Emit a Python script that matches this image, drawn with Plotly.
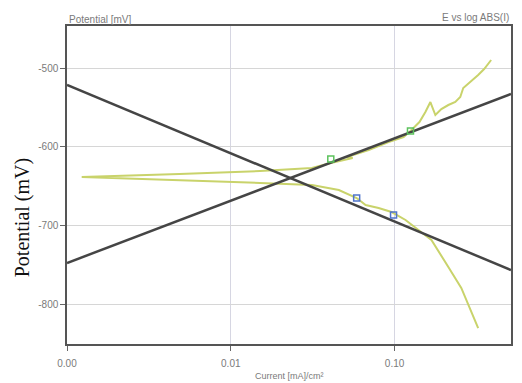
import plotly.graph_objects as go

# Polarisation curve (cathodic end -> Ecorr -> anodic end)
current = [0.3240, 0.2897, 0.2555, 0.2130, 0.1679, 0.1399, 0.1167, 0.0959, 0.0799,
           0.0666, 0.0587, 0.0457, 0.0313, 0.0151, 0.00486, 0.00123,
           0.00486, 0.0151, 0.0313, 0.0408, 0.0555, 0.0511, 0.0695, 0.0919, 0.1134,
           0.1251, 0.1419, 0.1543, 0.1655, 0.1775, 0.1931, 0.2130, 0.2349, 0.2519,
           0.2627, 0.2897, 0.3240, 0.3524, 0.3888]
potential = [-830.4, -807.5, -779.5, -752.8, -718.5, -705.8, -693.1, -683.0, -677.9,
             -674.1, -665.2, -655.0, -648.7, -646.1, -642.3, -638.5,
             -634.7, -630.9, -627.1, -620.7, -614.4, -613.1, -604.2, -594.0, -587.7,
             -580.0, -568.6, -555.9, -543.2, -559.7, -552.1, -547.0, -543.2, -536.8,
             -525.4, -517.8, -508.9, -501.3, -489.8]

# Tafel fit lines
tafel_current = [0.001, 0.514]
tafel_cathodic = [-521.6, -756.7]
tafel_anodic = [-747.8, -533.0]

# Fit-range markers
anodic_mark_i = [0.0408, 0.1251]
anodic_mark_e = [-615.6, -580.0]
cathodic_mark_i = [0.0587, 0.0986]
cathodic_mark_e = [-665.2, -686.8]

x_ticks = [0.001, 0.01, 0.1]
x_tick_text = ["0.00", "0.01", "0.10"]
y_ticks = [-500, -600, -700, -800]
y_tick_text = ["-500", "-600", "-700", "-800"]

small_font = "Liberation Sans, Arial, sans-serif"
gray = "#7a7a7a"

fig = go.Figure()
fig.add_trace(go.Scatter(x=current, y=potential, mode="lines",
                         line=dict(color="#c9d36b", width=2), showlegend=False))
fig.add_trace(go.Scatter(x=tafel_current, y=tafel_cathodic, mode="lines",
                         line=dict(color="#454545", width=2.5), showlegend=False))
fig.add_trace(go.Scatter(x=tafel_current, y=tafel_anodic, mode="lines",
                         line=dict(color="#454545", width=2.5), showlegend=False))
fig.add_trace(go.Scatter(x=anodic_mark_i, y=anodic_mark_e, mode="markers",
                         marker=dict(symbol="square-open", size=6, color="#5cc25c",
                                     line=dict(width=1.5)), showlegend=False))
fig.add_trace(go.Scatter(x=cathodic_mark_i, y=cathodic_mark_e, mode="markers",
                         marker=dict(symbol="square-open", size=6, color="#4f74cc",
                                     line=dict(width=1.5)), showlegend=False))

fig.update_layout(
    width=522, height=383,
    margin=dict(l=67, r=9, t=26, b=39),
    paper_bgcolor="white", plot_bgcolor="white",
    font=dict(family=small_font, size=10, color=gray),
    xaxis=dict(type="log", range=[-3, -0.289], tickvals=x_ticks, ticktext=x_tick_text,
               ticks="outside", ticklen=5, tickcolor="#666", showline=True, mirror=True,
               linecolor="#555", linewidth=1.5, showgrid=True, gridcolor="#d6d6e2",
               gridwidth=1, zeroline=False, ticklabelstandoff=4,
               tickfont=dict(size=10, color=gray)),
    yaxis=dict(range=[-850.7, -446.6], tickvals=y_ticks, ticktext=y_tick_text,
               ticks="outside", ticklen=5, tickcolor="#666", showline=True, mirror=True,
               linecolor="#555", linewidth=1.5, showgrid=True, gridcolor="#d6d6d6",
               gridwidth=1, zeroline=False, tickfont=dict(size=10, color=gray)),
    annotations=[
        dict(text="Potential [mV]", xref="paper", yref="paper", x=0, y=1.019,
             xanchor="left", yanchor="middle", showarrow=False,
             font=dict(family=small_font, size=10, color=gray)),
        dict(text="E vs log ABS(I)", xref="paper", yref="paper", x=1, y=1.028,
             xanchor="right", yanchor="middle", showarrow=False,
             font=dict(family=small_font, size=10, color=gray)),
        dict(text="Current [mA]/cm²", xref="paper", yref="paper", x=0.5, y=-0.1006,
             xanchor="center", yanchor="middle", showarrow=False,
             font=dict(family=small_font, size=9, color=gray)),
        dict(text="Potential (mV)", xref="paper", yref="paper", x=-0.1009, y=0.396,
             xanchor="center", yanchor="middle", showarrow=False, textangle=-90,
             font=dict(family="Liberation Serif, Times New Roman, serif", size=20, color="#111")),
    ],
)

fig.write_html("out.html", config={"displayModeBar": False},
               post_script="document.body.style.margin='0';document.body.style.padding='0';")
